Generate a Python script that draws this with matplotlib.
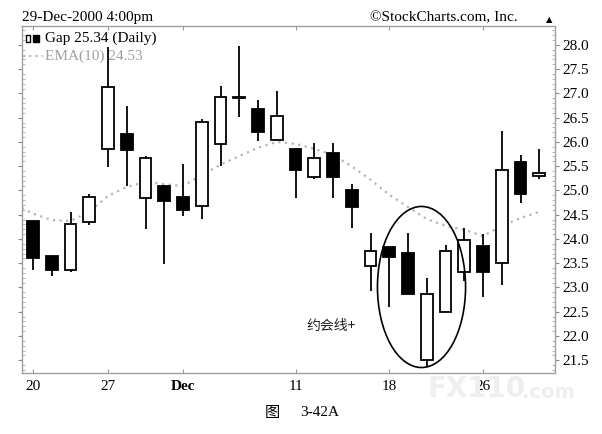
import matplotlib
matplotlib.use("Agg")
import matplotlib.pyplot as plt
from matplotlib.patches import Ellipse, Rectangle
from matplotlib.lines import Line2D
import numpy as np

# ---- data ----
opens  = [24.36, 23.64, 23.36, 24.34, 25.85, 26.16, 24.85, 25.10, 24.87, 24.67,
          25.96, 26.92, 26.67, 26.03, 25.85, 25.28, 25.78, 25.00, 23.44, 23.83,
          23.71, 21.51, 22.49, 23.31, 23.86, 23.50, 25.59, 25.30]
highs  = [24.36, 23.64, 24.55, 24.93, 27.96, 26.74, 25.72, 25.12, 25.54, 26.47,
          27.15, 27.98, 26.87, 27.06, 25.85, 25.97, 25.97, 25.13, 24.12, 23.83,
          24.12, 23.20, 23.87, 24.23, 24.10, 26.23, 25.73, 25.85]
lows   = [23.36, 23.24, 23.31, 24.29, 25.48, 25.10, 24.21, 23.48, 24.47, 24.41,
          25.51, 26.52, 26.01, 26.03, 24.85, 25.23, 24.85, 24.22, 22.93, 22.60,
          22.87, 21.37, 22.49, 23.13, 22.81, 23.05, 24.74, 25.23]
closes = [23.60, 23.36, 24.30, 24.87, 27.14, 25.84, 25.66, 24.79, 24.60, 26.42,
          26.92, 26.90, 26.21, 26.54, 25.42, 25.66, 25.28, 24.65, 23.76, 23.62,
          22.87, 22.87, 23.76, 23.98, 23.31, 25.42, 24.93, 25.36]
ema_x  = [-0.59, 0, 1, 2, 3, 4, 5, 6, 7, 8, 9, 10, 11, 12, 13, 14, 15, 16, 17,
          18, 19, 20, 21, 22, 23, 24, 25, 26, 27]
ema    = [24.64, 24.52, 24.39, 24.37, 24.56, 24.89, 25.07, 25.18, 25.13, 25.09,
          25.32, 25.53, 25.71, 25.88, 26.00, 25.96, 25.86, 25.73, 25.50, 25.22,
          24.91, 24.66, 24.41, 24.27, 24.19, 24.06, 24.27, 24.43, 24.56]
xtick_pos = [0, 4, 8, 14, 19, 24]
xtick_labels = ["20", "27", "Dec", "11", "18", "26"]
yticks = [21.5, 22.0, 22.5, 23.0, 23.5, 24.0, 24.5, 25.0, 25.5, 26.0, 26.5, 27.0, 27.5, 28.0]

SERIF = ["Liberation Serif", "DejaVu Serif"]
CJK = ["Noto Sans CJK SC", "DejaVu Sans"]

fig = plt.figure(figsize=(6.02, 4.34), dpi=100)
fig.patch.set_facecolor("white")

# faint watermark (behind the axes)
fig.text(427/602, 1-389/434, "FX110", fontsize=20, fontweight="bold", ha="left", va="center",
         color="#eeeeee", zorder=0)
fig.text(522/602, 1-392/434, ".com", fontsize=14, fontweight="bold", ha="left", va="center",
         color="#eeeeee", zorder=0)

ax = fig.add_axes([22/602, 1-373/434, (555-22)/602, (373-26)/434])
ax.patch.set_alpha(0)

x = np.arange(len(opens))
o = np.array(opens); c = np.array(closes)
ax.vlines(x, lows, highs, color="black", lw=1.3, zorder=2)
bottom = np.minimum(o, c)
height = np.maximum(np.abs(c - o), 0.02)
face = ["white" if cc >= oo else "black" for oo, cc in zip(o, c)]
ax.bar(x, height, bottom=bottom, width=0.62, color=face, edgecolor="black",
       linewidth=1.3, zorder=3)

ax.plot(ema_x, ema, color="#b5b5b5", lw=1.6, ls=(0, (1, 2)), zorder=1)

ax.add_patch(Ellipse((20.72, 23.01), 4.7, 3.32, fill=False, ec="black", lw=1.2, zorder=4))
ax.text(15.9, 22.21, "约会线+", fontsize=10, family=CJK, ha="center", va="center", color="#222222")

ax.set_xlim(-0.59, 27.84)
ax.set_ylim(21.237, 28.39)

ax.yaxis.tick_right()
ax.set_yticks(yticks)
ax.set_yticklabels([f"{v:.1f}" for v in yticks], family=SERIF, fontsize=11)
ax.set_yticks(np.arange(21.3, 28.4, 0.1), minor=True)
ax.tick_params(axis="y", which="major", direction="out", length=3, color="#888888", pad=2, right=True, left=True)
ax.tick_params(axis="y", which="minor", direction="in", length=2, color="#aaaaaa", right=True, left=True)
ax.set_xticks(xtick_pos)
ax.set_xticklabels(xtick_labels, family=SERIF, fontsize=11)
for lab in ax.get_xticklabels():
    if lab.get_text() == "Dec":
        lab.set_fontweight("bold")
ax.tick_params(axis="x", direction="in", length=3, color="#999999", pad=5, top=True)
for s in ax.spines.values():
    s.set_color("#a0a0a0")
    s.set_linewidth(1.0)
    s.set_linestyle((0, (3, 1)))

# header texts
fig.text(22/602, 1-18/434, "29-Dec-2000 4:00pm", family=SERIF, fontsize=11, ha="left", va="center")
fig.text(518/602, 1-18/434, "\u00a9StockCharts.com, Inc.", family=SERIF, fontsize=11, ha="right", va="center")
fig.text(549/602, 1-20/434, "\u25b2", fontsize=6, ha="center", va="center", color="black")

# legend
fig.patches.append(Rectangle((26/602, 1-42/434), 4/602, 7/434, transform=fig.transFigure,
                             fc="white", ec="black", lw=1.0))
fig.patches.append(Rectangle((33/602, 1-42/434), 6/602, 7/434, transform=fig.transFigure,
                             fc="black", ec="black", lw=1.0))
fig.text(45/602, 1-38/434, "Gap 25.34 (Daily)", family=SERIF, fontsize=11, ha="left", va="center")
fig.lines.append(Line2D([23/602, 43/602], [1-56/434, 1-56/434], transform=fig.transFigure,
                        color="#b5b5b5", lw=1.5, ls=(0, (1, 2))))
fig.text(45/602, 1-56/434, "EMA(10) 24.53", family=SERIF, fontsize=11, ha="left", va="center", color="#a0a0a0")

# caption
fig.text(272/602, 1-412/434, "图", family=CJK, fontsize=11, ha="center", va="center")
fig.text(300/602, 1-412/434, "3-42A", family=SERIF, fontsize=11, ha="left", va="center")

fig.savefig("out.png", dpi=100, facecolor="white")
